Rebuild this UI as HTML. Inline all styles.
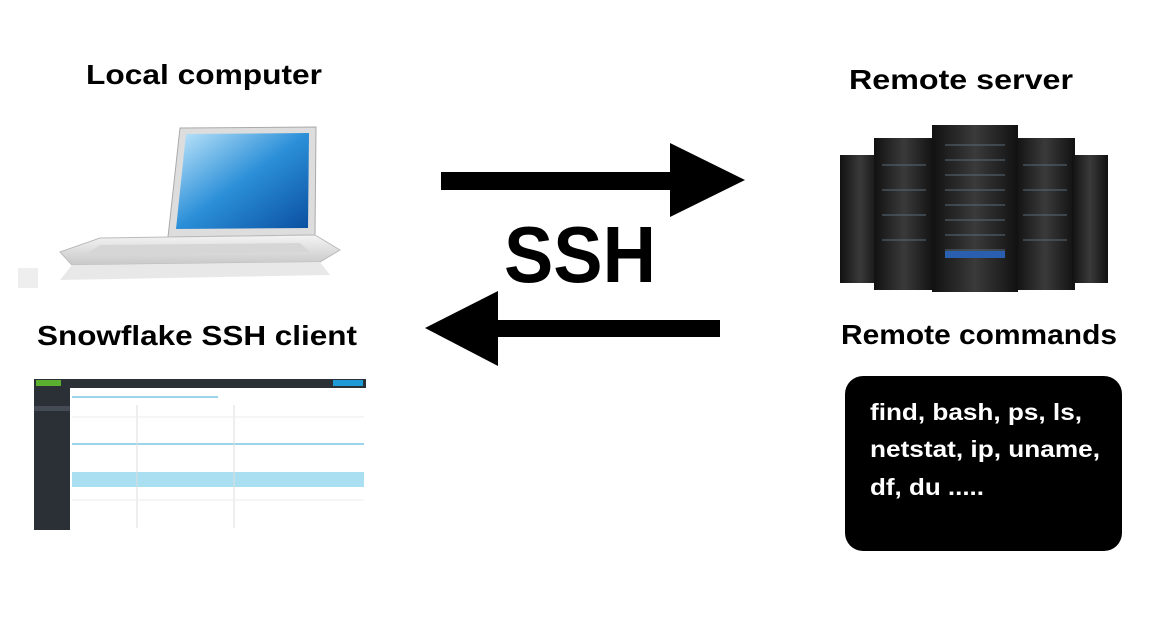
<!DOCTYPE html>
<html><head><style>
html,body{margin:0;padding:0;background:#fff;width:1158px;height:617px;overflow:hidden}
text{font-family:"Liberation Sans",sans-serif;font-weight:bold}
</style></head><body>
<svg width="1158" height="617" viewBox="0 0 1158 617" xmlns="http://www.w3.org/2000/svg">
<defs>
<linearGradient id="scr" x1="0" y1="0" x2="1" y2="1"><stop offset="0" stop-color="#bfe6fb"/><stop offset="0.5" stop-color="#2b8fd8"/><stop offset="1" stop-color="#0a4fa0"/></linearGradient>
<linearGradient id="base" x1="0" y1="0" x2="0" y2="1"><stop offset="0" stop-color="#f4f4f4"/><stop offset="1" stop-color="#c8c8c8"/></linearGradient>
<linearGradient id="rack" x1="0" y1="0" x2="1" y2="0"><stop offset="0" stop-color="#111"/><stop offset="0.5" stop-color="#3a3a3a"/><stop offset="1" stop-color="#111"/></linearGradient>
</defs>
<!-- labels -->
<text x="86" y="84" font-size="28" textLength="236" lengthAdjust="spacingAndGlyphs">Local computer</text>
<text x="849" y="89" font-size="28" textLength="224" lengthAdjust="spacingAndGlyphs">Remote server</text>
<text x="37" y="345" font-size="28" textLength="320" lengthAdjust="spacingAndGlyphs">Snowflake SSH client</text>
<text x="841" y="344" font-size="28" textLength="276" lengthAdjust="spacingAndGlyphs">Remote commands</text>
<text x="504" y="282" font-size="80" textLength="152" lengthAdjust="spacingAndGlyphs">SSH</text>
<!-- arrows -->
<rect x="441" y="172" width="232" height="18" fill="#000"/>
<polygon points="670,143 745,180 670,217" fill="#000"/>
<rect x="495" y="320" width="225" height="17" fill="#000"/>
<polygon points="498,291 425,328 498,366" fill="#000"/>
<!-- laptop -->
<polygon points="180,128 316,127 315,235 168,237" fill="#ddd" stroke="#aaa"/>
<polygon points="186,134 309,133 308,228 176,229" fill="url(#scr)"/>
<polygon points="168,237 315,235 340,250 320,262 72,265 60,252 100,238" fill="url(#base)" stroke="#bbb"/>
<polygon points="100,245 300,243 310,252 85,255" fill="#d6d6d6"/>
<polygon points="72,265 320,262 330,275 60,280" fill="#e8e8e8"/>
<rect x="18" y="268" width="20" height="20" fill="#eee"/>
<!-- screenshot -->
<rect x="34" y="378" width="332" height="152" fill="#fff"/>
<rect x="34" y="379" width="332" height="9" fill="#2b2f36"/>
<rect x="36" y="380" width="25" height="6" fill="#5cb030"/>
<rect x="333" y="380" width="30" height="6" fill="#1e9ad6"/>
<rect x="34" y="388" width="36" height="142" fill="#2b2f36"/>
<rect x="34" y="406" width="36" height="5" fill="#444b55"/>
<line x1="72" y1="397" x2="218" y2="397" stroke="#38a8d8"/>
<line x1="72" y1="444" x2="364" y2="444" stroke="#38a8d8"/>
<rect x="72" y="472" width="292" height="15" fill="#aadff2"/>
<line x1="137" y1="405" x2="137" y2="528" stroke="#ddd"/>
<line x1="234" y1="405" x2="234" y2="528" stroke="#ddd"/>
<line x1="72" y1="417" x2="364" y2="417" stroke="#eee"/>
<line x1="72" y1="500" x2="364" y2="500" stroke="#eee"/>
<!-- servers -->
<rect x="840" y="155" width="40" height="128" fill="url(#rack)"/>
<rect x="874" y="138" width="60" height="152" fill="url(#rack)"/>
<rect x="1015" y="138" width="60" height="152" fill="url(#rack)"/>
<rect x="1072" y="155" width="36" height="128" fill="url(#rack)"/>
<rect x="932" y="125" width="86" height="167" fill="url(#rack)"/>
<g stroke="#5a6a78" stroke-width="1">
<line x1="945" y1="145" x2="1005" y2="145"/><line x1="945" y1="160" x2="1005" y2="160"/><line x1="945" y1="175" x2="1005" y2="175"/><line x1="945" y1="190" x2="1005" y2="190"/><line x1="945" y1="205" x2="1005" y2="205"/><line x1="945" y1="220" x2="1005" y2="220"/><line x1="945" y1="235" x2="1005" y2="235"/><line x1="945" y1="250" x2="1005" y2="250"/>
<line x1="882" y1="165" x2="926" y2="165"/><line x1="882" y1="190" x2="926" y2="190"/><line x1="882" y1="215" x2="926" y2="215"/><line x1="882" y1="240" x2="926" y2="240"/>
<line x1="1023" y1="165" x2="1067" y2="165"/><line x1="1023" y1="190" x2="1067" y2="190"/><line x1="1023" y1="215" x2="1067" y2="215"/><line x1="1023" y1="240" x2="1067" y2="240"/>
</g>
<rect x="945" y="251" width="60" height="7" fill="#2a5fb0"/>
<!-- command box -->
<rect x="845" y="376" width="277" height="175" rx="18" fill="#000"/>
<text x="870" y="420" font-size="23" fill="#fff" textLength="212" lengthAdjust="spacingAndGlyphs">find, bash, ps, ls,</text>
<text x="870" y="457" font-size="23" fill="#fff" textLength="230" lengthAdjust="spacingAndGlyphs">netstat, ip, uname,</text>
<text x="870" y="495" font-size="23" fill="#fff" textLength="114" lengthAdjust="spacingAndGlyphs">df, du .....</text>
</svg>
</body></html>
